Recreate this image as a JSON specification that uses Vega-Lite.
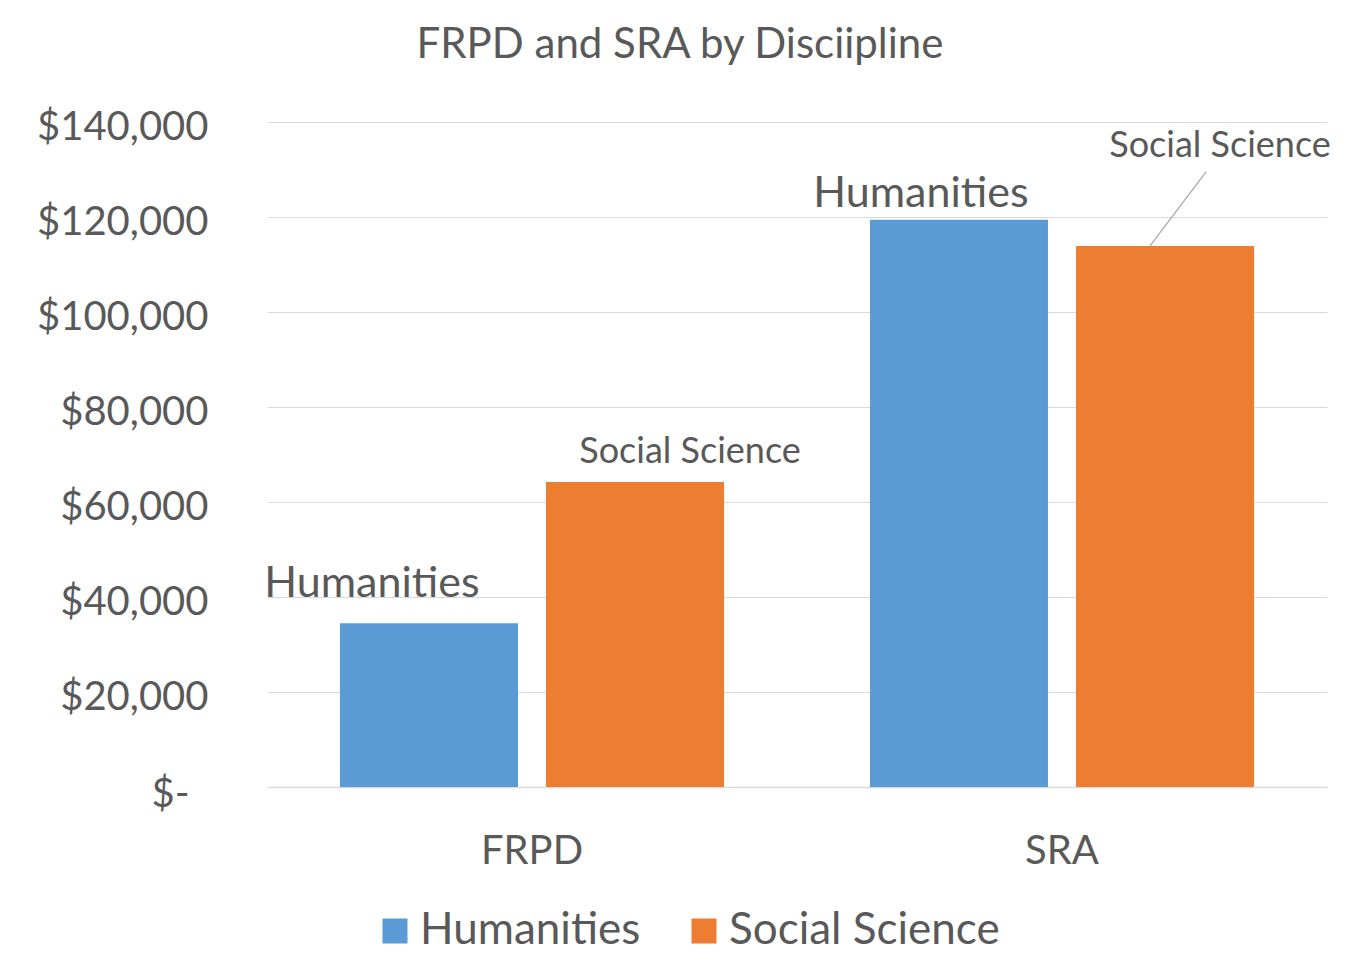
{
  "$schema": "https://vega.github.io/schema/vega-lite/v6.json",
  "width": 1060,
  "height": 665,
  "autosize": {"type": "none"},
  "padding": {"left": 267, "top": 122, "right": 20, "bottom": 186},
  "background": "white",
  "title": {
    "text": "FRPD and SRA by Disciipline",
    "font": "Lato",
    "fontSize": 42,
    "fontWeight": "normal",
    "color": "#595959",
    "anchor": "middle",
    "frame": "group",
    "dx": -117,
    "offset": 7,
    "baseline": "alphabetic"
  },
  "data": {
    "values": [
      {"program": "FRPD", "discipline": "Humanities", "amount": 34500},
      {"program": "FRPD", "discipline": "Social Science", "amount": 64200},
      {"program": "SRA", "discipline": "Humanities", "amount": 119400},
      {"program": "SRA", "discipline": "Social Science", "amount": 113900}
    ]
  },
  "config": {
    "view": {"stroke": null},
    "font": "Lato"
  },
  "encoding": {
    "x": {
      "field": "program",
      "type": "nominal",
      "sort": ["FRPD", "SRA"],
      "scale": {"paddingInner": 0, "paddingOuter": 0},
      "axis": {
        "title": null,
        "labelAngle": 0,
        "labelFont": "Lato",
        "labelFontSize": 40,
        "labelColor": "#595959",
        "labelPadding": 44,
        "ticks": false,
        "domainColor": "#d9d9d9",
        "domainWidth": 1.5,
        "grid": false
      }
    },
    "y": {
      "field": "amount",
      "type": "quantitative",
      "scale": {"domain": [0, 140000], "nice": false},
      "axis": {
        "title": null,
        "values": [0, 20000, 40000, 60000, 80000, 100000, 120000, 140000],
        "labelExpr": "datum.value == 0 ? '$-' : '$' + format(datum.value, ',')",
        "labelFont": "Lato",
        "labelFontSize": 40,
        "labelColor": "#595959",
        "labelPadding": {"condition": {"test": "datum.value == 0", "value": 78}, "value": 59},
        "labelOffset": {"condition": {"test": "datum.value == 0", "value": 7}, "value": 5},
        "ticks": false,
        "domain": false,
        "grid": true,
        "gridColor": "#d9d9d9",
        "gridWidth": 1
      }
    }
  },
  "layer": [
    {
      "mark": {"type": "bar"},
      "encoding": {
        "xOffset": {
          "field": "discipline",
          "type": "nominal",
          "scale": {"paddingInner": 0.136, "paddingOuter": 0.354}
        },
        "color": {
          "field": "discipline",
          "type": "nominal",
          "scale": {"domain": ["Humanities", "Social Science"], "range": ["#5B9BD5", "#ED7D31"]},
          "legend": {
            "orient": "none",
            "legendX": 106,
            "legendY": 787,
            "direction": "horizontal",
            "title": null,
            "symbolType": "square",
            "symbolSize": 625,
            "symbolStrokeWidth": 0,
            "labelFont": "Lato",
            "labelFontSize": 44,
            "labelLimit": 500,
            "labelColor": "#595959",
            "labelOffset": 3,
            "columnPadding": 41,
            "padding": 0
          }
        }
      }
    },
    {
      "transform": [{"filter": "datum.program == 'SRA' && datum.discipline == 'Social Science'"}],
      "mark": {"type": "rule", "color": "#a6a6a6", "strokeWidth": 1.2, "xOffset": 88, "x2Offset": 144},
      "encoding": {
        "x2": {"field": "program"},
        "y2": {"datum": 129500}
      }
    },
    {
      "transform": [{"filter": "datum.program == 'FRPD' && datum.discipline == 'Humanities'"}],
      "mark": {"type": "text", "font": "Lato", "fontSize": 43, "color": "#595959", "baseline": "alphabetic", "dx": -57, "dy": -26},
      "encoding": {
        "xOffset": {"field": "discipline", "type": "nominal"},
        "text": {"field": "discipline"}
      }
    },
    {
      "transform": [{"filter": "datum.program == 'FRPD' && datum.discipline == 'Social Science'"}],
      "mark": {"type": "text", "font": "Lato", "fontSize": 36, "color": "#595959", "baseline": "alphabetic", "dx": 55, "dy": -19},
      "encoding": {
        "xOffset": {"field": "discipline", "type": "nominal"},
        "text": {"field": "discipline"}
      }
    },
    {
      "transform": [{"filter": "datum.program == 'SRA' && datum.discipline == 'Humanities'"}],
      "mark": {"type": "text", "font": "Lato", "fontSize": 43, "color": "#595959", "baseline": "alphabetic", "dx": -38, "dy": -13},
      "encoding": {
        "xOffset": {"field": "discipline", "type": "nominal"},
        "text": {"field": "discipline"}
      }
    },
    {
      "transform": [{"filter": "datum.program == 'SRA' && datum.discipline == 'Social Science'"}],
      "mark": {"type": "text", "font": "Lato", "fontSize": 36, "color": "#595959", "baseline": "alphabetic", "dx": 55, "dy": -89},
      "encoding": {
        "xOffset": {"field": "discipline", "type": "nominal"},
        "text": {"field": "discipline"}
      }
    }
  ]
}
